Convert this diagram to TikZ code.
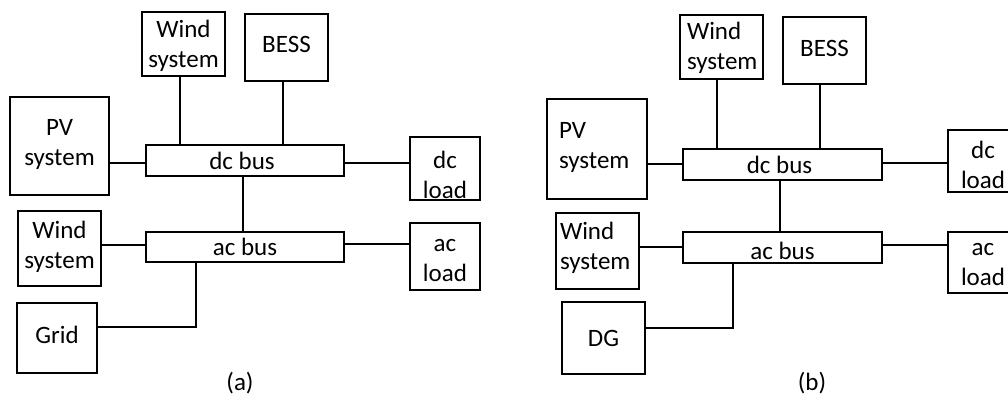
\documentclass[tikz,border=0pt]{standalone}
\usepackage{fontspec}
\setmainfont{Carlito}
\usetikzlibrary{calc}
\begin{document}
\begin{tikzpicture}[x=1pt,y=-1pt,
  box/.style 2 args={draw, line width=1.6pt, minimum width=#1pt, minimum height=#2pt, inner sep=0pt},
  txt/.style={inner sep=0pt, align=center, font=\fontsize{25}{30}\selectfont},
  txtl/.style={inner sep=0pt, align=left, text width=74pt, font=\fontsize{25}{30}\selectfont},
  wire/.style={line width=1.6pt}]
\useasboundingbox (0,0) rectangle (1008,396);
\fill[white] (0,0) rectangle (1008,396);
\clip (0,0) rectangle (1008,396);
% ---------- (a) ----------
\node[box={83}{64}, label={[txt,yshift=-1.5pt]center:Wind\\system}] (aW1) at (183.5,44) {};
\node[box={83}{67}, label={[txt,yshift=3pt]center:BESS}] (aB) at (286.5,47.5) {};
\node[box={99}{98}, label={[txt,yshift=1.5pt]center:PV\\system}] (aPV) at (59.5,146) {};
\node[box={198}{31}, label={[txt,xshift=-3pt]center:dc bus}] (aDC) at (245,160.5) {};
\node[box={70}{63}, label={[txt,yshift=-6pt]center:dc\\load}] (aDL) at (445,168.5) {};
\node[box={83}{75}, label={[txt,yshift=1.5pt]center:Wind\\system}] (aW2) at (59.5,248.5) {};
\node[box={198}{30}, label={[txt]center:ac bus}] (aAC) at (245,247) {};
\node[box={70}{67}, label={[txt,yshift=-4.5pt]center:ac\\load}] (aAL) at (445,256.5) {};
\node[box={80}{70}, label={[txt,yshift=3.5pt]center:Grid}] (aG) at (57,338) {};
\node[txt] (aLab) at (240,383.5) {(a)};
\draw[wire] ($(aW1.south)+(-3.5,0)$) -- ($(aDC.north)+(-65,0)$);
\draw[wire] ($(aB.south)+(-3.5,0)$) -- ($(aDC.north)+(38,0)$);
\draw[wire] ($(aPV.east)+(0,17)$) -- ($(aDC.west)+(0,2.5)$);
\draw[wire] ($(aDC.east)+(0,2.5)$) -- ($(aDL.west)+(0,-5.5)$);
\draw[wire] ($(aDC.south)+(-2,0)$) -- ($(aAC.north)+(-2,0)$);
\draw[wire] ($(aW2.east)+(0,-3.5)$) -- ($(aAC.west)+(0,-2)$);
\draw[wire] ($(aAC.east)+(0,-3)$) -- ($(aAL.west)+(0,-12.5)$);
\draw[wire] ($(aAC.south)+(-49,0)$) |- ($(aG.east)+(0,-11)$);
% ---------- (b) ----------
\node[box={83}{64}, label={[txtl,xshift=2.5pt,yshift=-0.5pt]center:Wind\\system}] (bW1) at (721.5,47) {};
\node[box={83}{67}, label={[txt,yshift=2pt]center:BESS}] (bB) at (824.5,50.5) {};
\node[box={100}{100}, label={[txtl,xshift=-1pt,yshift=2pt]center:PV\\system}] (bPV) at (597,149) {};
\node[box={199}{31}, label={[txt,xshift=-3pt]center:dc bus}] (bDC) at (782.5,164.5) {};
\node[box={70}{62}, label={[txt,yshift=-4pt]center:dc\\load}] (bDL) at (983,161) {};
\node[box={83}{76}, label={[txtl,xshift=-0.5pt,yshift=3pt]center:Wind\\system}] (bW2) at (597.5,251) {};
\node[box={199}{31}, label={[txt,yshift=-3pt]center:ac bus}] (bAC) at (782.5,247.5) {};
\node[box={70}{61}, label={[txt,yshift=-2.5pt]center:ac\\load}] (bAL) at (983,262.5) {};
\node[box={83}{72}, label={[txt]center:DG}] (bDG) at (603.5,338) {};
\node[txt] (bLab) at (812,383.5) {(b)};
\draw[wire] ($(bW1.south)+(-4.5,0)$) -- ($(bDC.north)+(-65.5,0)$);
\draw[wire] ($(bB.south)+(-4.5,0)$) -- ($(bDC.north)+(37.5,0)$);
\draw[wire] ($(bPV.east)+(0,15)$) -- ($(bDC.west)+(0,-0.5)$);
\draw[wire] ($(bDC.east)+(0,-1.5)$) -- ($(bDL.west)+(0,2)$);
\draw[wire] ($(bDC.south)+(-2.5,0)$) -- ($(bAC.north)+(-2.5,0)$);
\draw[wire] ($(bW2.east)+(0,-4)$) -- ($(bAC.west)+(0,-0.5)$);
\draw[wire] ($(bAC.east)+(0,-2.5)$) -- ($(bAL.west)+(0,-17.5)$);
\draw[wire] ($(bAC.south)+(-49.5,0)$) |- ($(bDG.east)+(0,-10)$);
\end{tikzpicture}
\end{document}
